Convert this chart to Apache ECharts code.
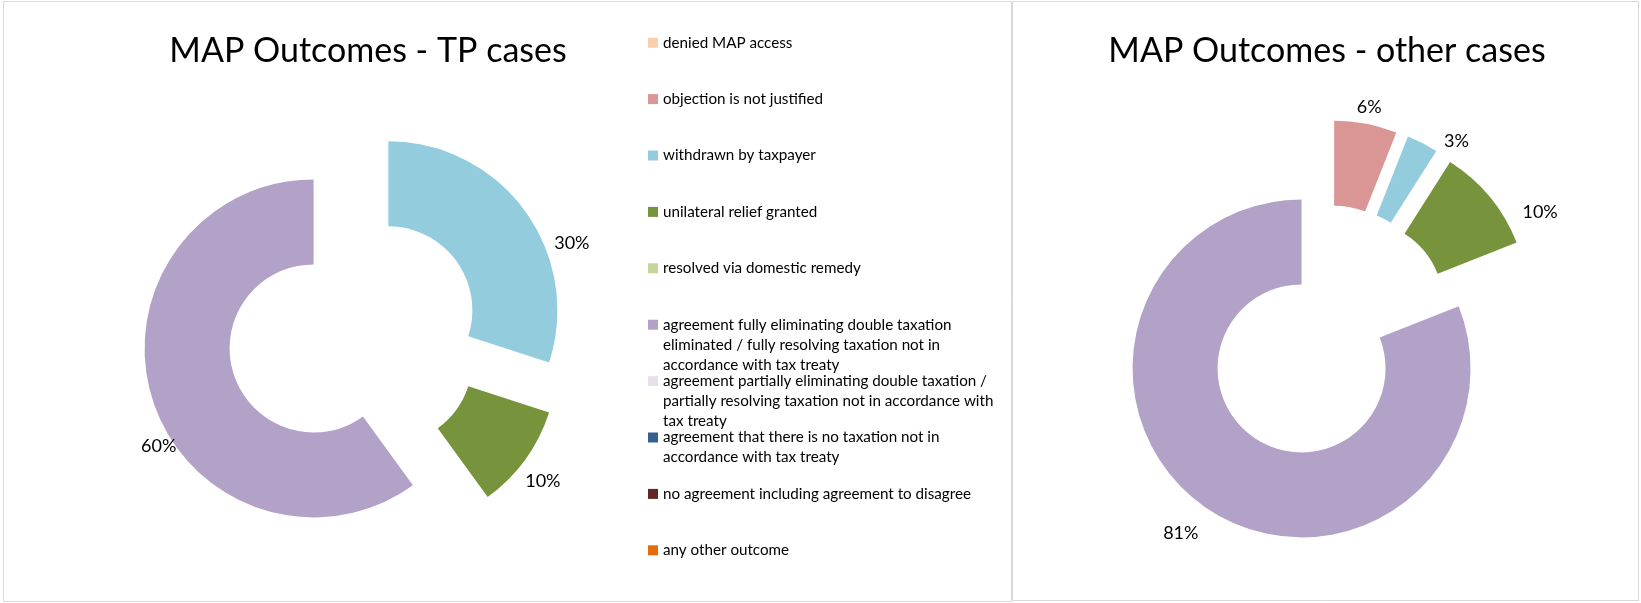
<!DOCTYPE html>
<html>
<head>
<meta charset="utf-8">
<script src="https://cdn.jsdelivr.net/npm/echarts@6/dist/echarts.min.js"></script>
<style>
html,body{margin:0;padding:0;background:#fff;}
#chart{width:1641px;height:603px;}
</style>
</head>
<body>
<div id="chart"></div>
<script>
// ---- data ----
const categories = [
  'denied MAP access',
  'objection is not justified',
  'withdrawn by taxpayer',
  'unilateral relief granted',
  'resolved via domestic remedy',
  'agreement fully eliminating double taxation eliminated / fully resolving taxation not in accordance with tax treaty',
  'agreement partially eliminating double taxation / partially resolving taxation not in accordance with tax treaty',
  'agreement that there is no taxation not in accordance with tax treaty',
  'no agreement including agreement to disagree',
  'any other outcome'
];
const legendLabels = [
  'denied MAP access',
  'objection is not justified',
  'withdrawn by taxpayer',
  'unilateral relief granted',
  'resolved via domestic remedy',
  'agreement fully eliminating double taxation\neliminated / fully resolving taxation not in\naccordance with tax treaty',
  'agreement partially eliminating double taxation /\npartially resolving taxation not in accordance with\ntax treaty',
  'agreement that there is no taxation not in\naccordance with tax treaty',
  'no agreement including agreement to disagree',
  'any other outcome'
];
const tpValues    = [0, 0, 30, 10, 0, 60, 0, 0, 0, 0];
const otherValues = [0, 6, 3, 10, 0, 81, 0, 0, 0, 0];
const titles = ['MAP Outcomes - TP cases', 'MAP Outcomes - other cases'];

// ---- styles ----
const colors = ['#FBCFAA', '#D99694', '#93CDDD', '#77933C', '#C3D69B',
                '#B3A2C7', '#E6E0EC', '#376092', '#632523', '#E46C0A'];
const FONT = 'Lato';
// label nudges (style only), per series, keyed by category index
const labelNudge = [
  { 2: [16, 38.5], 3: [-13, 15.5], 5: [38, 42] },
  { 1: [-16, -7], 2: [12, 7], 3: [20, 22], 5: [2.5, 17] }
];

function pieData(values) {
  return categories.map((n, i) => ({
    name: n,
    value: values[i],
    selected: true,
    itemStyle: { color: colors[i] },
    label: { show: values[i] > 0 }
  }));
}

function pieSeries(values, center, offset, si) {
  return {
    type: 'pie',
    center: center,
    radius: [84, 169],
    startAngle: 90,
    clockwise: true,
    selectedMode: 'multiple',
    selectedOffset: offset,
    avoidLabelOverlap: false,
    emphasis: { disabled: true },
    label: {
      position: 'outside',
      formatter: '{c}%',
      color: '#000',
      fontFamily: FONT,
      fontSize: 18
    },
    labelLine: { show: false, length: 10, length2: 0 },
    labelLayout: function (p) {
      const o = labelNudge[si][p.dataIndex] || [0, 0];
      return { dx: o[0], dy: o[1] };
    },
    data: pieData(values)
  };
}

const legendTop0 = 42.7, legendStep = 56.4, legendLineH = 20;
const legends = categories.map((n, i) => {
  const lines = legendLabels[i].split('\n').length;
  const label = '\n'.repeat(lines - 1) + legendLabels[i];
  return {
    data: [n],
    orient: 'vertical',
    left: 648,
    top: legendTop0 + legendStep * i - (2 * lines - 1) * legendLineH / 2,
    padding: 0,
    icon: 'rect',
    itemWidth: 10,
    itemHeight: 10,
    selectedMode: false,
    formatter: () => label,
    textStyle: {
      fontFamily: FONT,
      fontSize: 15.2,
      lineHeight: legendLineH,
      color: '#000'
    }
  };
});

const chart = echarts.init(document.getElementById('chart'), null, { renderer: 'canvas' });
chart.setOption({
  backgroundColor: '#fff',
  animation: false,
  title: [
    { text: titles[0], left: 368, top: 34, textAlign: 'center', padding: 0,
      textStyle: { fontFamily: FONT, fontSize: 34, fontWeight: 'normal', color: '#000' } },
    { text: titles[1], left: 1327, top: 34, textAlign: 'center', padding: 0,
      textStyle: { fontFamily: FONT, fontSize: 34, fontWeight: 'normal', color: '#000' } }
  ],
  legend: legends,
  graphic: [
    { type: 'rect', silent: true, z: -1,
      shape: { x: 3.5, y: 1.5, width: 1008, height: 600 },
      style: { fill: 'none', stroke: '#D9D9D9', lineWidth: 1 } },
    { type: 'rect', silent: true, z: -1,
      shape: { x: 1012.5, y: 1.5, width: 626, height: 599 },
      style: { fill: 'none', stroke: '#D9D9D9', lineWidth: 1 } }
  ],
  series: [
    pieSeries(tpValues, [354, 335.3], 42.5, 0),
    pieSeries(otherValues, [1326, 332.4], 43.5, 1)
  ]
});
</script>
</body>
</html>
